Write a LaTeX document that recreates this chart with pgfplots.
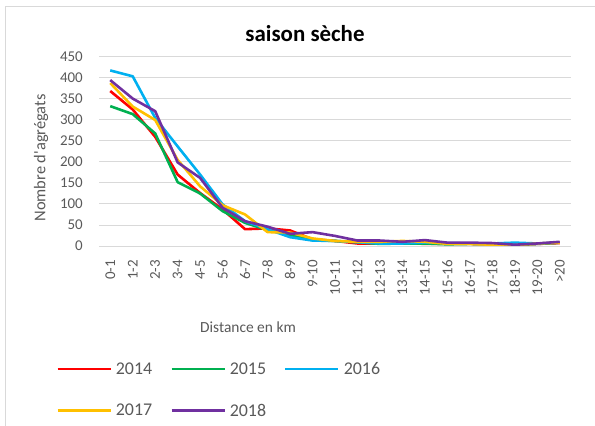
\documentclass[border=0pt]{standalone}
\usepackage{fontspec}
\setmainfont{Carlito}
\usepackage{pgfplots}
\pgfplotsset{compat=1.18}
\definecolor{cText}{HTML}{595959}
\definecolor{cGrid}{HTML}{D9D9D9}
\definecolor{c2014}{HTML}{FF0000}
\definecolor{c2015}{HTML}{00B050}
\definecolor{c2016}{HTML}{00B0F0}
\definecolor{c2017}{HTML}{FFC000}
\definecolor{c2018}{HTML}{7030A0}
\newcommand{\tickfont}{\fontsize{15}{15}\selectfont}

\begin{document}
\begin{tikzpicture}
\clip (0bp,0bp) rectangle (595bp,426bp);
\path[use as bounding box] (0bp,0bp) rectangle (595bp,426bp);
% chart area border (cropped at right and bottom)
\draw[cGrid, line width=1bp] (5bp,-10bp) -- (5bp,419bp) -- (610bp,419bp);

\begin{axis}[
  at={(99bp,180bp)}, anchor=south west,
  scale only axis, width=472bp, height=189bp,
  xmin=-0.5, xmax=20.5, ymin=0, ymax=450,
  xtick={0,...,20},
  xticklabels={0-1,1-2,2-3,3-4,4-5,5-6,6-7,7-8,8-9,9-10,10-11,11-12,12-13,13-14,14-15,15-16,16-17,17-18,18-19,19-20,>20},
  ytick={0,50,...,450},
  axis line style={draw=none},
  major tick length=0pt,
  ymajorgrids, grid style={cGrid, line width=1bp},
  /pgf/number format/assume math mode=true,
  tick label style={font=\tickfont, text=cText, inner sep=0pt},
  xticklabel style={rotate=90, anchor=east},
  yticklabel style={anchor=east},
  xticklabel shift=14bp,
  yticklabel shift=16bp,
  legend columns=3,
  legend cell align=left,
  legend style={at={(axis description cs:-0.091,-0.614)}, anchor=north west,
    draw=none, fill=none, inner sep=0pt, row sep=28bp,
    font=\fontsize{18}{18}\selectfont, text=cText,
    nodes={inner sep=0pt},
    /tikz/every odd column/.append style={column sep=4bp},
    /tikz/every even column/.append style={column sep=18bp}},
  legend image code/.code={\draw[#1] (0bp,0bp) -- (53bp,0bp);},
  every axis plot/.append style={line width=2.6bp, line join=round, mark=none},
]
\addplot[c2014] coordinates {
  (0,369) (1,325) (2,260) (3,170) (4,126) (5,87) (6,40) (7,42) (8,37) (9,16) (10,12)
  (11,6) (12,6) (13,8) (14,5) (15,5) (16,5) (17,4) (18,3) (19,5) (20,7)
};
\addlegendentry{2014}
\addplot[c2015] coordinates {
  (0,333) (1,314) (2,268) (3,152) (4,125) (5,83) (6,55) (7,38) (8,26) (9,14) (10,12)
  (11,9) (12,5) (13,6) (14,6) (15,4) (16,5) (17,4) (18,3) (19,5) (20,8)
};
\addlegendentry{2015}
\addplot[c2016] coordinates {
  (0,418) (1,404) (2,305) (3,237) (4,170) (5,99) (6,59) (7,40) (8,21) (9,13) (10,12)
  (11,9) (12,6) (13,6) (14,8) (15,7) (16,6) (17,6) (18,8) (19,6) (20,8)
};
\addlegendentry{2016}
\addplot[c2017] coordinates {
  (0,388) (1,332) (2,300) (3,205) (4,142) (5,97) (6,75) (7,33) (8,32) (9,18) (10,12)
  (11,10) (12,10) (13,12) (14,10) (15,5) (16,5) (17,3) (18,2) (19,6) (20,8)
};
\addlegendentry{2017}
\addplot[c2018] coordinates {
  (0,395) (1,351) (2,321) (3,199) (4,162) (5,91) (6,59) (7,46) (8,29) (9,33) (10,24)
  (11,13) (12,13) (13,10) (14,14) (15,8) (16,8) (17,7) (18,3) (19,6) (20,10)
};
\addlegendentry{2018}
\end{axis}

\node[font=\bfseries\fontsize{23}{23}\selectfont] at (305bp,392bp) {saison sèche};
\node[font=\fontsize{15.5}{15.5}\selectfont, text=cText] at (248bp,99bp) {Distance en km};
\node[font=\fontsize{16.5}{16.5}\selectfont, text=cText, rotate=90] at (41bp,268bp) {Nombre d\textquotesingle agrégats};
\end{tikzpicture}
\end{document}
